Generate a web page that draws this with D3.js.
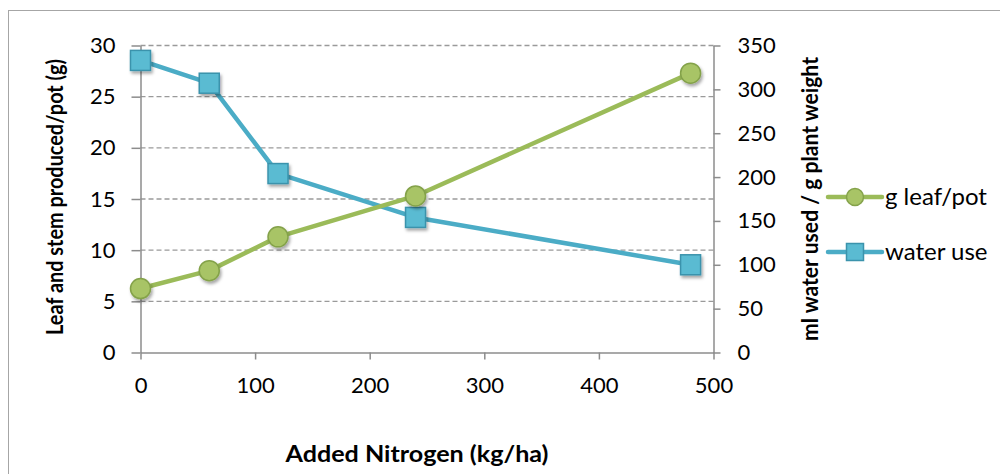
<!DOCTYPE html>
<html>
<head>
<meta charset="utf-8">
<script src="https://cdn.jsdelivr.net/npm/d3@7"></script>
<style>
  html, body { margin: 0; padding: 0; background: #fff; }
  svg { display: block; font-family: Lato, "Open Sans", sans-serif; }
</style>
</head>
<body>
<svg id="chart" width="1000" height="474"></svg>
<script>
// Added nitrogen (kg/ha)
const nitrogen = [0, 60, 120, 240, 480];
// Leaf and stem produced per pot (g) — left axis
const leafPerPot = [6.25, 8.0, 11.3, 15.3, 27.3];
// ml water used per g plant weight — right axis
const waterUse = [333, 307, 204, 154, 100];

const xTicks = [0, 100, 200, 300, 400, 500];
const leftTicks = [0, 5, 10, 15, 20, 25, 30];
const rightTicks = [0, 50, 100, 150, 200, 250, 300, 350];

const seriesNames = ["g leaf/pot", "water use"];
const leafColor = "#9BBB59", leafFill = "#A8C466", leafStroke = "#84A24A";
const waterColor = "#4BACC6", waterFill = "#5ABBD2", waterStroke = "#3B93AC";

const svg = d3.select("#chart");

// outer chart frame
svg.append("rect")
  .attr("x", 8.5).attr("y", 10.5).attr("width", 1000).attr("height", 480)
  .attr("fill", "none").attr("stroke", "#a6a6a6").attr("stroke-width", 1);

const defs = svg.append("defs");
const shadow = defs.append("filter").attr("id", "shadow")
  .attr("x", "-50%").attr("y", "-50%").attr("width", "200%").attr("height", "200%");
shadow.append("feDropShadow").attr("dx", 1.5).attr("dy", 2.5)
  .attr("stdDeviation", 1.6).attr("flood-color", "#000").attr("flood-opacity", 0.35);

const plotLeft = 140.5, plotRight = 713.5, plotTop = 45.5, plotBottom = 352.5;

const x = d3.scaleLinear().domain([0, 500]).range([plotLeft, plotRight]);
const yL = d3.scaleLinear().domain([0, 30]).range([plotBottom, plotTop]);
const yR = d3.scaleLinear().domain([0, 350]).range([plotBottom, plotTop]);

// dashed gridlines on the left-axis ticks
svg.append("g").selectAll("line")
  .data(leftTicks.filter(d => d > 0))
  .join("line")
  .attr("x1", plotLeft).attr("x2", plotRight)
  .attr("y1", d => yL(d)).attr("y2", d => yL(d))
  .attr("stroke", "#9a9a9a").attr("stroke-width", 1.3)
  .attr("stroke-dasharray", "5,3");

const axisColor = "#8c8c8c";
function styleAxis(g) {
  g.selectAll("path").attr("stroke", axisColor).attr("stroke-width", 1.5);
  g.selectAll("line").attr("stroke", axisColor).attr("stroke-width", 1.5);
  g.selectAll("text").attr("fill", "#000").style("font-size", "22px")
    .style("font-family", "Lato, 'Open Sans', sans-serif");
}

svg.append("g").attr("transform", `translate(0,${plotBottom})`)
  .call(d3.axisBottom(x).tickValues(xTicks).tickSize(7).tickSizeOuter(0).tickPadding(18))
  .call(styleAxis);

svg.append("g").attr("transform", `translate(${plotLeft},0)`)
  .call(d3.axisLeft(yL).tickValues(leftTicks).tickSize(9).tickSizeOuter(0).tickPadding(16))
  .call(styleAxis);

svg.append("g").attr("transform", `translate(${plotRight},0)`)
  .call(d3.axisRight(yR).tickValues(rightTicks).tickSize(7).tickSizeOuter(0).tickPadding(17))
  .call(styleAxis);

// axis titles
svg.append("text")
  .attr("transform", `translate(63,${(plotTop + plotBottom) / 2 - 2}) rotate(-90)`)
  .attr("text-anchor", "middle").attr("font-weight", "bold").attr("font-size", 22)
  .attr("textLength", 276).attr("lengthAdjust", "spacingAndGlyphs")
  .text("Leaf and stem produced/pot (g)");
svg.append("text")
  .attr("transform", `translate(818,${(plotTop + plotBottom) / 2}) rotate(-90)`)
  .attr("text-anchor", "middle").attr("font-weight", "bold").attr("font-size", 22)
  .attr("textLength", 284).attr("lengthAdjust", "spacingAndGlyphs")
  .text("ml water used / g plant weight");
svg.append("text")
  .attr("x", 417).attr("y", 462)
  .attr("text-anchor", "middle").attr("font-weight", "bold").attr("font-size", 22)
  .attr("textLength", 263).attr("lengthAdjust", "spacingAndGlyphs")
  .text("Added Nitrogen (kg/ha)");

// series lines
const leafLine = d3.line().x((d, i) => x(nitrogen[i])).y(d => yL(d));
const waterLine = d3.line().x((d, i) => x(nitrogen[i])).y(d => yR(d));

svg.append("path").datum(waterUse).attr("d", waterLine)
  .attr("fill", "none").attr("stroke", waterColor).attr("stroke-width", 4.5)
  .attr("stroke-linejoin", "round");
svg.append("path").datum(leafPerPot).attr("d", leafLine)
  .attr("fill", "none").attr("stroke", leafColor).attr("stroke-width", 4.5)
  .attr("stroke-linejoin", "round");

// markers
svg.append("g").selectAll("rect").data(waterUse).join("rect")
  .attr("x", (d, i) => x(nitrogen[i]) - 10).attr("y", d => yR(d) - 10)
  .attr("width", 20).attr("height", 20)
  .attr("fill", waterFill).attr("stroke", waterStroke).attr("stroke-width", 1.5)
  .attr("filter", "url(#shadow)");
svg.append("g").selectAll("circle").data(leafPerPot).join("circle")
  .attr("cx", (d, i) => x(nitrogen[i])).attr("cy", d => yL(d)).attr("r", 10)
  .attr("fill", leafFill).attr("stroke", leafStroke).attr("stroke-width", 1.5)
  .attr("filter", "url(#shadow)");

// legend
const legend = svg.append("g").attr("transform", "translate(828,0)");
const legendY = [197, 252];
legendY.forEach((ly, i) => {
  const color = i === 0 ? leafColor : waterColor;
  legend.append("line").attr("x1", 0).attr("x2", 54).attr("y1", ly).attr("y2", ly)
    .attr("stroke", color).attr("stroke-width", 4.5).attr("stroke-linecap", "round");
  if (i === 0) {
    legend.append("circle").attr("cx", 27).attr("cy", ly).attr("r", 8.5)
      .attr("fill", leafFill).attr("stroke", leafStroke).attr("stroke-width", 1.5);
  } else {
    legend.append("rect").attr("x", 18.5).attr("y", ly - 8.5).attr("width", 17).attr("height", 17)
      .attr("fill", waterFill).attr("stroke", waterStroke).attr("stroke-width", 1.5);
  }
  legend.append("text").attr("x", 57).attr("y", ly + 8).attr("font-size", 24)
    .text(seriesNames[i]);
});
</script>
</body>
</html>
